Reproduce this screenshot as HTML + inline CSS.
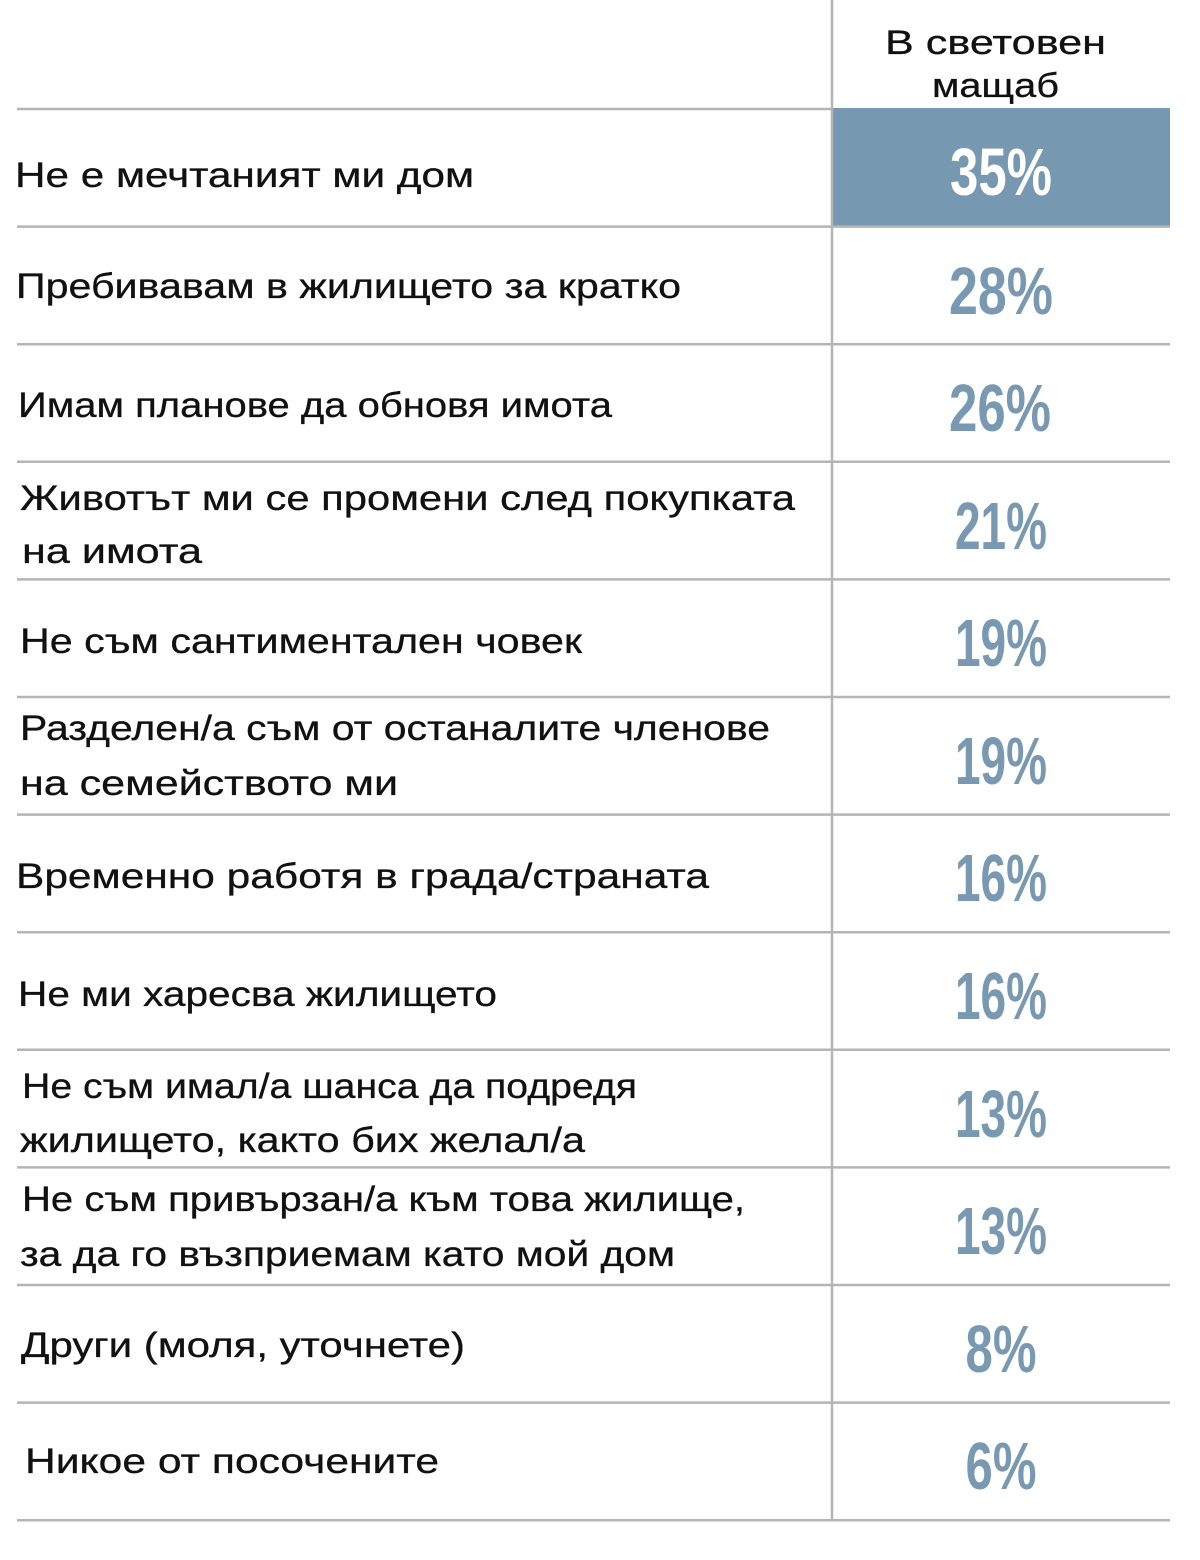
<!DOCTYPE html>
<html>
<head>
<meta charset="utf-8">
<style>
html,body{margin:0;padding:0;background:#fff;}
svg{display:block;}
.l{font-family:"Liberation Sans","DejaVu Sans",sans-serif;font-size:35px;fill:#111;stroke:#111;stroke-width:0.3px;}
.h{font-family:"Liberation Sans","DejaVu Sans",sans-serif;font-size:34px;fill:#111;stroke:#111;stroke-width:0.3px;}
.p{font-family:"Liberation Sans","DejaVu Sans",sans-serif;font-size:67px;font-weight:bold;fill:#7999b3;text-anchor:middle;}
</style>
</head>
<body>
<svg width="1200" height="1560" viewBox="0 0 1200 1560" xmlns="http://www.w3.org/2000/svg">
<rect x="0" y="0" width="1200" height="1560" fill="#fff"/>
<!-- highlighted cell -->
<rect x="832" y="108" width="338" height="119" fill="#7698b1"/>
<!-- grid lines -->
<g stroke="#b5b5b5" stroke-width="2.5">
<line x1="832" y1="0" x2="832" y2="1521"/>
<line x1="17" y1="109" x2="832" y2="109"/>
<line x1="17" y1="226.6" x2="1170" y2="226.6"/>
<line x1="17" y1="344.2" x2="1170" y2="344.2"/>
<line x1="17" y1="461.8" x2="1170" y2="461.8"/>
<line x1="17" y1="579.4" x2="1170" y2="579.4"/>
<line x1="17" y1="697" x2="1170" y2="697"/>
<line x1="17" y1="814.6" x2="1170" y2="814.6"/>
<line x1="17" y1="932.2" x2="1170" y2="932.2"/>
<line x1="17" y1="1049.8" x2="1170" y2="1049.8"/>
<line x1="17" y1="1167.4" x2="1170" y2="1167.4"/>
<line x1="17" y1="1285" x2="1170" y2="1285"/>
<line x1="17" y1="1402.6" x2="1170" y2="1402.6"/>
<line x1="17" y1="1520.2" x2="1170" y2="1520.2"/>
</g>
<!-- header -->
<text class="h" x="885" y="54" textLength="221" lengthAdjust="spacingAndGlyphs">В световен</text>
<text class="h" x="932" y="97" textLength="127" lengthAdjust="spacingAndGlyphs">мащаб</text>
<!-- labels -->
<text class="l" x="15" y="187" textLength="459" lengthAdjust="spacingAndGlyphs">Не е мечтаният ми дом</text>
<text class="l" x="16" y="298" textLength="665" lengthAdjust="spacingAndGlyphs">Пребивавам в жилището за кратко</text>
<text class="l" x="18" y="417" textLength="594" lengthAdjust="spacingAndGlyphs">Имам планове да обновя имота</text>
<text class="l" x="20" y="510" textLength="775" lengthAdjust="spacingAndGlyphs">Животът ми се промени след покупката</text>
<text class="l" x="22" y="563" textLength="180" lengthAdjust="spacingAndGlyphs">на имота</text>
<text class="l" x="20" y="653" textLength="562" lengthAdjust="spacingAndGlyphs">Не съм сантиментален човек</text>
<text class="l" x="20" y="740" textLength="750" lengthAdjust="spacingAndGlyphs">Разделен/а съм от останалите членове</text>
<text class="l" x="20" y="795" textLength="378" lengthAdjust="spacingAndGlyphs">на семейството ми</text>
<text class="l" x="16" y="888" textLength="693" lengthAdjust="spacingAndGlyphs">Временно работя в града/страната</text>
<text class="l" x="18" y="1006" textLength="479" lengthAdjust="spacingAndGlyphs">Не ми харесва жилището</text>
<text class="l" x="22" y="1098" textLength="615" lengthAdjust="spacingAndGlyphs">Не съм имал/а шанса да подредя</text>
<text class="l" x="20" y="1152" textLength="565" lengthAdjust="spacingAndGlyphs">жилището, както бих желал/а</text>
<text class="l" x="22" y="1211" textLength="723" lengthAdjust="spacingAndGlyphs">Не съм привързан/а към това жилище,</text>
<text class="l" x="20" y="1266" textLength="655" lengthAdjust="spacingAndGlyphs">за да го възприемам като мой дом</text>
<text class="l" x="21" y="1357" textLength="444" lengthAdjust="spacingAndGlyphs">Други (моля, уточнете)</text>
<text class="l" x="25" y="1473" textLength="414" lengthAdjust="spacingAndGlyphs">Никое от посочените</text>
<!-- percentages -->
<text class="p" x="1001" y="195" textLength="102" lengthAdjust="spacingAndGlyphs" style="fill:#ffffff">35%</text>
<text class="p" x="1001" y="314" textLength="104" lengthAdjust="spacingAndGlyphs">28%</text>
<text class="p" x="1000" y="431" textLength="102" lengthAdjust="spacingAndGlyphs">26%</text>
<text class="p" x="1001" y="549" textLength="92" lengthAdjust="spacingAndGlyphs">21%</text>
<text class="p" x="1001" y="666" textLength="92" lengthAdjust="spacingAndGlyphs">19%</text>
<text class="p" x="1001" y="784" textLength="92" lengthAdjust="spacingAndGlyphs">19%</text>
<text class="p" x="1001" y="901" textLength="92" lengthAdjust="spacingAndGlyphs">16%</text>
<text class="p" x="1001" y="1019" textLength="92" lengthAdjust="spacingAndGlyphs">16%</text>
<text class="p" x="1001" y="1137" textLength="92" lengthAdjust="spacingAndGlyphs">13%</text>
<text class="p" x="1001" y="1254" textLength="92" lengthAdjust="spacingAndGlyphs">13%</text>
<text class="p" x="1001" y="1372" textLength="71" lengthAdjust="spacingAndGlyphs">8%</text>
<text class="p" x="1001" y="1489" textLength="71" lengthAdjust="spacingAndGlyphs">6%</text>
</svg>
</body>
</html>
